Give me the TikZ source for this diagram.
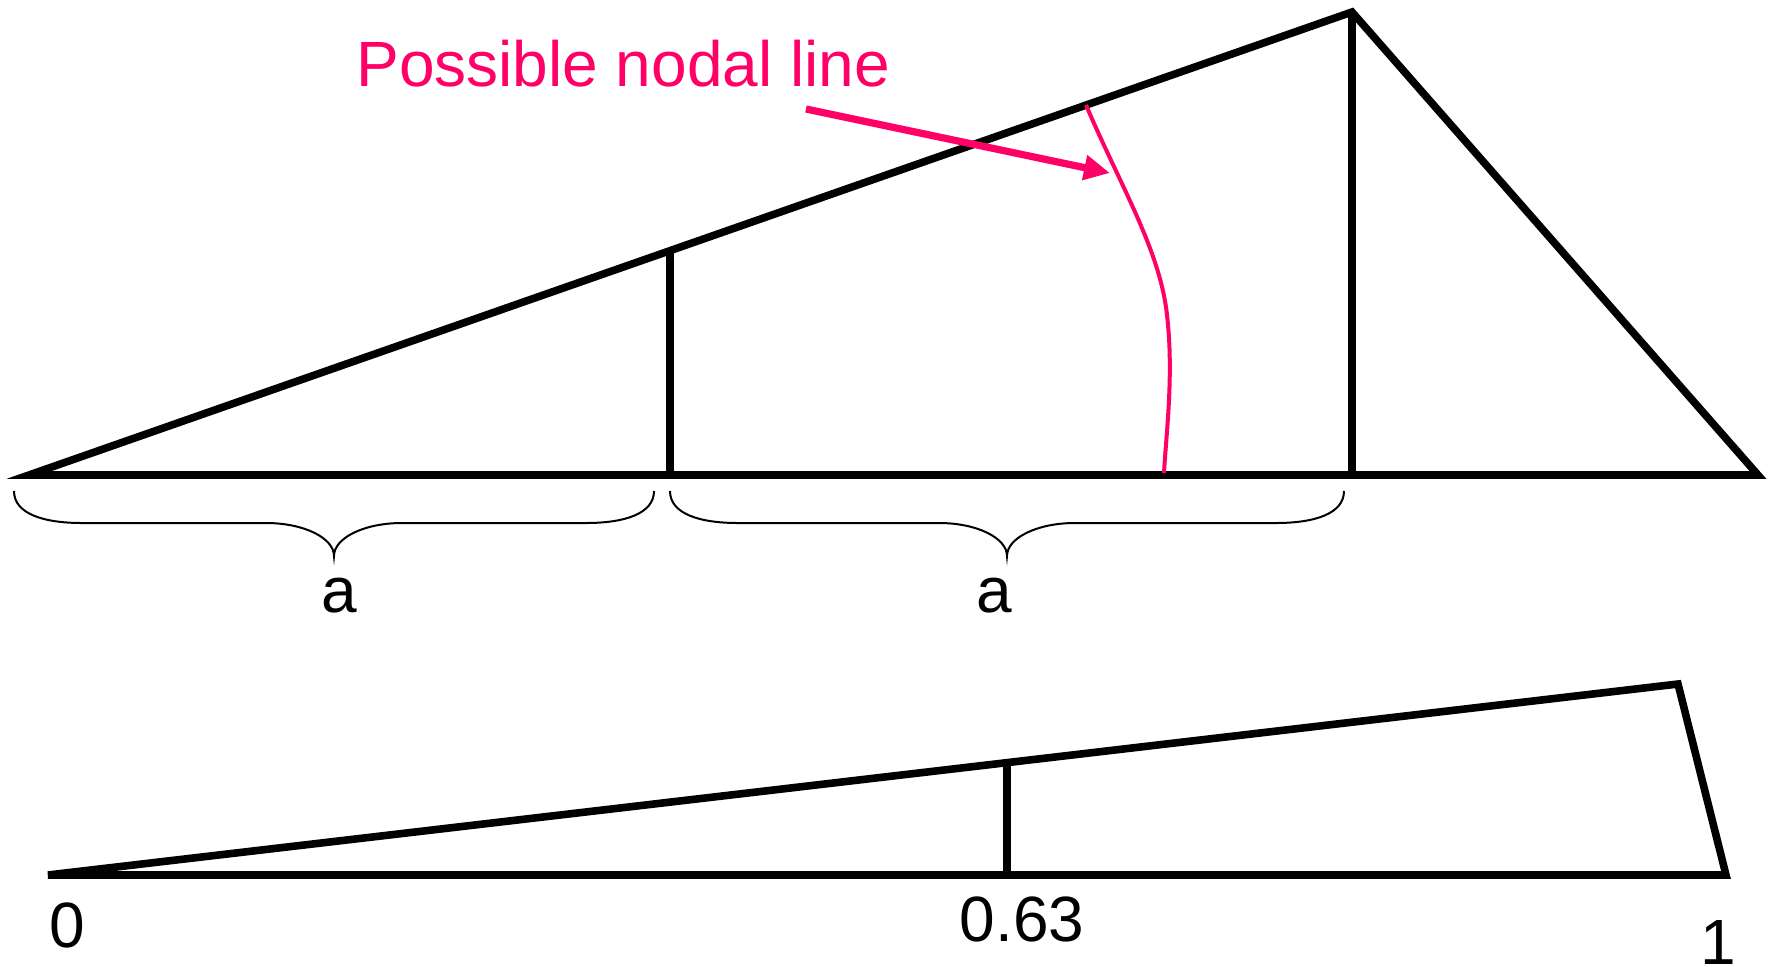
\documentclass[tikz,border=0pt]{standalone}
\usepackage{fontspec}
\setmainfont{Liberation Sans}
\usetikzlibrary{arrows.meta}
\definecolor{nodal}{RGB}{255,0,102}
\begin{document}
\begin{tikzpicture}[x=0.5pt,y=-0.5pt,
  thickline/.style={line width=3.8pt},
  bracestroke/.style={line width=1pt},
  lbl/.style={inner sep=0pt, anchor=base, font=\fontsize{32pt}{38pt}\selectfont},
  nodalline/.style={draw=nodal, line width=2pt},
  nodalarrow/.style={draw=nodal, line width=3.6pt, -{Triangle[length=13pt,width=12pt,fill=nodal]}}
 ]
\useasboundingbox (0,0) rectangle (1778,966);
% top triangle
\coordinate (A) at (29,475);
\coordinate (B) at (1352,12);
\coordinate (C) at (1758,475);
\coordinate (M) at (670,475);
\coordinate (Mt) at (670,0);
\draw[thickline] (A) -- (B) -- (C) -- cycle;
\draw[thickline] (B) -- (B|-A);
\draw[thickline] (M) -- (intersection of M--Mt and A--B);
% nodal line
\coordinate (P1) at (1086,105);
\coordinate (P2) at (1167,315);
\coordinate (P3) at (1164,473);
\draw[nodalline] (P1) .. controls (1120,185) and (1160,250) .. (P2) .. controls (1174,375) and (1166,435) .. (P3);
% arrow and label
\node[lbl, anchor=base west, text=nodal] (title) at (356,86) {Possible nodal line};
\coordinate (arrS) at (806,109);
\coordinate (arrE) at (1110,173);
\draw[nodalarrow] (arrS) -- (arrE);
% braces
\draw[bracestroke] (14,491) .. controls (14,514) and (44,523) .. (82,523) -- (266,523) .. controls (304,523) and (334,538) .. (334,556) .. controls (334,538) and (364,523) .. (402,523) -- (586,523) .. controls (624,523) and (654,514) .. (654,491);
\draw[bracestroke] (670,491) .. controls (670,514) and (700,523) .. (738,523) -- (939,523) .. controls (977,523) and (1007,538) .. (1007,556) .. controls (1007,538) and (1037,523) .. (1075,523) -- (1276,523) .. controls (1314,523) and (1344,514) .. (1344,491);
\node[lbl] (a1) at (339,612) {a};
\node[lbl] (a2) at (994,612) {a};
% bottom figure
\coordinate (D) at (48,875);
\coordinate (E) at (1678,684);
\coordinate (F) at (1726,875);
\coordinate (N) at (1007,875);
\coordinate (Nt) at (1007,600);
\draw[thickline] (D) -- (E) -- (F) -- cycle;
\draw[thickline] (N) -- (intersection of N--Nt and D--E);
\node[lbl] (l0) at (67,947) {0};
\node[lbl] (l63) at (1022,941) {0.63};
\node[lbl] (l1) at (1718,964) {1};
\end{tikzpicture}
\end{document}
